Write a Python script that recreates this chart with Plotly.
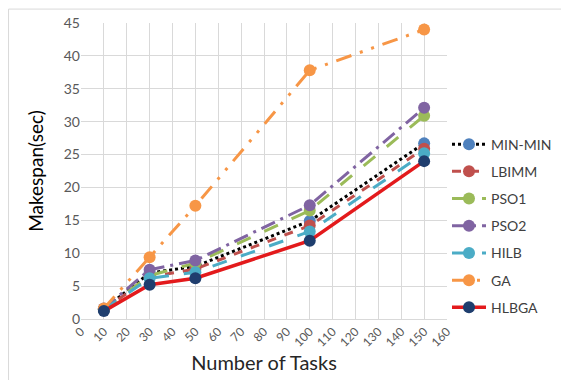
import plotly.graph_objects as go

tasks = [10, 30, 50, 100, 150]
min_min = [1.5, 7.0, 8.0, 14.9, 26.7]
lbimm = [1.4, 6.4, 7.6, 14.2, 25.9]
pso1 = [1.5, 6.6, 8.5, 16.5, 30.9]
pso2 = [1.6, 7.5, 8.9, 17.3, 32.1]
hilb = [1.4, 6.2, 7.1, 13.3, 25.2]
ga = [1.6, 9.4, 17.2, 37.8, 44.0]
hlbga = [1.2, 5.2, 6.2, 11.9, 24.0]
x_ticks = list(range(0, 161, 10))

series = [
    ("MIN-MIN", min_min, "#000000", "dot", 3, "#4F81BD"),
    ("LBIMM", lbimm, "#C0504D", "dash", 3, "#C0504D"),
    ("PSO1", pso1, "#9BBB59", "longdash", 3, "#9BBB59"),
    ("PSO2", pso2, "#8064A2", "15px,6px,3px,6px", 3, "#8064A2"),
    ("HILB", hilb, "#4BACC6", "longdash", 3, "#4BACC6"),
    ("GA", ga, "#F79646", "16px,9px,3px,9px,3px,9px", 3, "#F79646"),
    ("HLBGA", hlbga, "#E31A1C", "solid", 3.5, "#1F3E6E"),
]

fig = go.Figure()
for name, vals, lc, dash, w, mc in series:
    fig.add_trace(go.Scatter(
        x=tasks, y=vals, name=name, legendgroup=name, mode="lines+markers",
        line=dict(color=lc, dash=dash, width=w),
        marker=dict(color=mc, size=12),
    ))

font_family = "Lato, Open Sans, sans-serif"
fig.update_layout(
    width=561, height=372,
    margin=dict(l=73, r=120, t=15, b=61),
    paper_bgcolor="white", plot_bgcolor="white",
    font=dict(family=font_family, color="#595959"),
    showlegend=True,
    legend=dict(x=1.0, y=0.314, xanchor="left", yanchor="middle",
                font=dict(size=14, color="#404040", family=font_family),
                itemwidth=34, tracegroupgap=6, bgcolor="rgba(0,0,0,0)"),
    xaxis=dict(range=[0, 160], tickvals=x_ticks, ticktext=[str(t) for t in x_ticks],
               tickangle=-45, showgrid=True, gridcolor="#D9D9D9", gridwidth=1,
               zeroline=False, showline=True, linecolor="#D9D9D9", automargin=False,
               tickfont=dict(size=12, color="#595959"),
               title=dict(text="Number of Tasks", font=dict(size=20, color="#262626"), standoff=2)),
    yaxis=dict(range=[0, 45], dtick=5, showgrid=True, gridcolor="#D9D9D9", gridwidth=1,
               zeroline=False, showline=False, ticks="", ticklen=0, automargin=False,
               tickfont=dict(size=14, color="#595959"),
               title=dict(text="Makespan(sec)", font=dict(size=19, color="#000000"), standoff=15)),
)
fig.add_shape(type="rect", xref="paper", yref="paper", x0=-0.198, y0=-0.3, x1=1.5, y1=1.047,
              line=dict(color="#D9D9D9", width=1), layer="below")
fig.write_html("out.html")
